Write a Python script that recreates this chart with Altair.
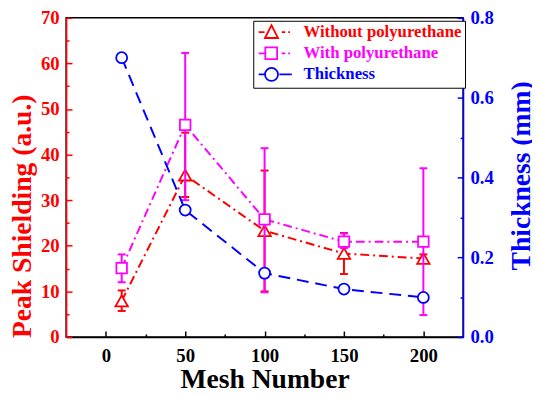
import altair as alt
import pandas as pd

# ---------------- data ----------------
mesh = [10, 50, 100, 150, 200]

without_val = [7.9, 35.5, 23.3, 18.3, 17.2]
without_lo = [5.7, 30.7, 10.0, 13.8, 16.3]
without_hi = [10.2, 44.8, 36.5, 22.8, 18.1]

with_val = [15.1, 46.5, 25.8, 20.9, 20.9]
with_lo = [12.0, 30.0, 9.8, 19.5, 4.8]
with_hi = [18.1, 62.3, 41.4, 22.7, 37.0]

thickness = [0.70, 0.318, 0.16, 0.12, 0.099]

series_names = ["Without polyurethane", "With polyurethane", "Thickness"]
series_colors = ["#ff0000", "#ff00ff", "#0000ff"]

x_tick_values = [0, 25, 50, 75, 100, 125, 150, 175, 200]
yl_tick_values = list(range(0, 75, 5))
yr_tick_values = [round(i * 0.1, 1) for i in range(9)]

# ---------------- styling ----------------
FONT = "Liberation Serif"
RED, MAG, BLUE = series_colors

df_wo = pd.DataFrame({"mesh": mesh, "val": without_val, "lo": without_lo,
                      "hi": without_hi, "series": series_names[0]})
df_w = pd.DataFrame({"mesh": mesh, "val": with_val, "lo": with_lo,
                     "hi": with_hi, "series": series_names[1]})
df_t = pd.DataFrame({"mesh": mesh, "val": thickness, "series": series_names[2]})

color_scale = alt.Scale(domain=series_names, range=series_colors)

# legend glyphs (line + marker), unit = sqrt(symbolSize)/2 px
tri = "M0.07,1.0 L1.17,-1.15 L2.27,1.0 Z"
sq = "M0.12,-1.0 L2.12,-1.0 L2.12,1.0 L0.12,1.0 Z"
circ = "M0.07,0 A1.1,1.1 0 1,1 2.27,0 A1.1,1.1 0 1,1 0.07,0 Z"
path_red = "M-1,0 L0,0 " + tri + " M2.9,0 L3.5,0 M4.0,0 L4.3,0"
path_mag = "M-1,0 L0.05,0 " + sq + " M2.9,0 L3.5,0 M4.0,0 L4.3,0"
path_blue = "M-1,0 L0,0 " + circ + " M2.5,0 L4.6,0"
shape_expr = (
    "datum.value === 'Thickness' ? '" + path_blue + "' : "
    "(datum.value === 'With polyurethane' ? '" + path_mag + "' : '" + path_red + "')"
)
label_color_expr = (
    "datum.value === 'Thickness' ? '" + BLUE + "' : "
    "(datum.value === 'With polyurethane' ? '" + MAG + "' : '" + RED + "')"
)

legend = alt.Legend(
    title=None, orient="none", legendX=190, legendY=3,
    labelFont=FONT, labelFontSize=17, labelFontWeight="bold",
    labelColor=alt.ExprRef(expr=label_color_expr),
    labelOffset=31, labelLimit=400,
    padding=3, strokeColor="black", fillColor="white",
    rowPadding=0.5, symbolSize=144,
    symbolType=alt.ExprRef(expr=shape_expr),
    symbolFillColor="white", symbolStrokeWidth=1.8, symbolOpacity=1,
)

x_axis = alt.Axis(
    values=x_tick_values,
    labelExpr="datum.value % 50 === 0 ? datum.label : ''",
    title="Mesh Number", titleFont=FONT, titleFontSize=28, titleFontWeight="bold",
    titleColor="black", titleY=51, titleBaseline="alphabetic",
    labelFont=FONT, labelFontSize=19, labelFontWeight="bold", labelColor="black",
    labelPadding=16, domainColor="black", domainWidth=1.5,
    tickColor="black", tickWidth=1.5,
    tickSize=alt.ExprRef(expr="datum.value % 50 === 0 ? -6 : -3"), grid=False,
)

yl_axis = alt.Axis(
    orient="left", values=yl_tick_values,
    labelExpr="datum.value % 10 === 0 ? datum.label : ''",
    title="Peak Shielding (a.u.)", titleFont=FONT, titleFontSize=28,
    titleFontWeight="bold", titleColor=RED,
    titleX=-36, titleY=201, titleBaseline="alphabetic",
    labelFont=FONT, labelFontSize=19, labelFontWeight="bold", labelColor=RED,
    labelPadding=13, domainColor=RED, domainWidth=1.5,
    tickColor=RED, tickWidth=1.5,
    tickSize=alt.ExprRef(expr="datum.value % 10 === 0 ? -6 : -3"), grid=False,
)

yr_axis = alt.Axis(
    orient="right", values=yr_tick_values,
    labelExpr="round(datum.value * 10) % 2 === 0 ? format(datum.value, '.1f') : ''",
    title="Thickness (mm)", titleFont=FONT, titleFontSize=28, titleFontWeight="bold",
    titleColor=BLUE, titleAngle=270, titleX=67, titleY=160,
    titleBaseline="alphabetic",
    labelFont=FONT, labelFontSize=19, labelFontWeight="bold", labelColor=BLUE,
    labelPadding=13, domainColor=BLUE, domainWidth=1.5,
    tickColor=BLUE, tickWidth=1.5,
    tickSize=alt.ExprRef(expr="round(datum.value * 10) % 2 === 0 ? -6 : -3"), grid=False,
)

X = alt.X("mesh:Q", scale=alt.Scale(domain=[-25, 225], nice=False, zero=False), axis=x_axis)
yl_scale = alt.Scale(domain=[0, 70], nice=False, zero=False)
yr_scale = alt.Scale(domain=[0, 0.8], nice=False, zero=False)

color_enc = alt.Color("series:N", scale=color_scale, legend=legend)
stroke_enc = alt.Stroke("series:N", scale=color_scale, legend=None)


def left_series(df, dash, shape, size):
    base = alt.Chart(df)
    rules = base.mark_rule(strokeWidth=2).encode(
        x=X, y=alt.Y("lo:Q", scale=yl_scale, axis=yl_axis), y2="hi:Q", color=color_enc)
    cap_lo = base.mark_rule(strokeWidth=2, xOffset=-4, x2Offset=4).encode(
        x=X, x2="mesh:Q", y=alt.Y("lo:Q", scale=yl_scale, axis=yl_axis), color=color_enc)
    cap_hi = base.mark_rule(strokeWidth=2, xOffset=-4, x2Offset=4).encode(
        x=X, x2="mesh:Q", y=alt.Y("hi:Q", scale=yl_scale, axis=yl_axis), color=color_enc)
    line = base.mark_line(strokeWidth=2, strokeDash=dash).encode(
        x=X, y=alt.Y("val:Q", scale=yl_scale, axis=yl_axis), color=color_enc)
    pts = base.mark_point(shape=shape, size=size, filled=True, fill="white",
                          strokeWidth=1.8, opacity=1).encode(
        x=X, y=alt.Y("val:Q", scale=yl_scale, axis=yl_axis), stroke=stroke_enc)
    return [rules, cap_lo, cap_hi, line, pts]


left = alt.layer(
    *left_series(df_wo, [9, 4, 2, 4], "triangle-up", 160),
    *left_series(df_w, [9, 4, 2, 4], "square", 115),
)

base_t = alt.Chart(df_t)
right = alt.layer(
    base_t.mark_line(strokeWidth=2, strokeDash=[12, 7]).encode(
        x=X, y=alt.Y("val:Q", scale=yr_scale, axis=yr_axis), color=color_enc),
    base_t.mark_point(shape="circle", size=125, filled=True, fill="white",
                      strokeWidth=1.8, opacity=1).encode(
        x=X, y=alt.Y("val:Q", scale=yr_scale, axis=yr_axis), stroke=stroke_enc),
)

chart = (
    alt.layer(left, right)
    .resolve_scale(y="independent")
    .properties(
        width=403, height=324,
        autosize=alt.AutoSizeParams(type="none"),
        padding={"left": 59, "top": 7, "right": 70, "bottom": 58},
        background="white",
    )
    .configure_view(stroke="black", strokeWidth=1.5)
)

chart.save("out.html", embed_options={"renderer": "svg", "actions": False})
